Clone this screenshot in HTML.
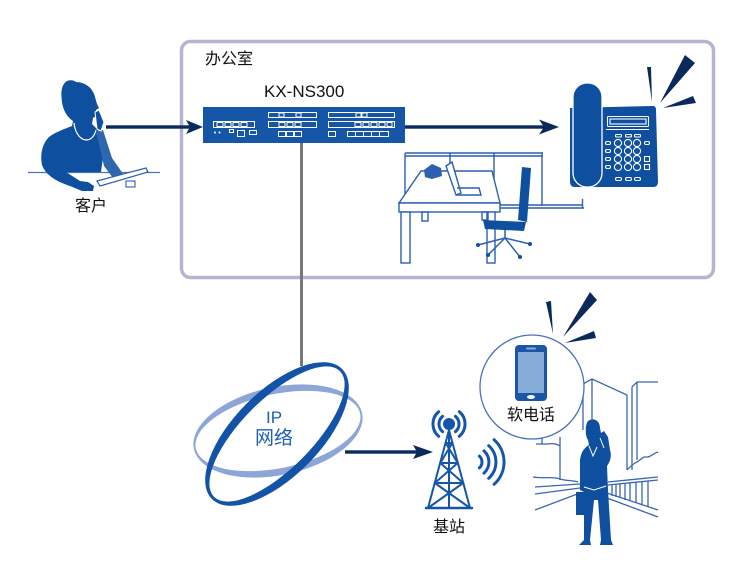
<!DOCTYPE html>
<html><head><meta charset="utf-8"><style>
html,body{margin:0;padding:0;background:#fff;}
svg{display:block;}
text{font-family:"Liberation Sans","Noto Sans CJK SC",sans-serif;}
</style></head><body>
<svg width="730" height="563" viewBox="0 0 730 563" xmlns="http://www.w3.org/2000/svg">
<rect width="730" height="563" fill="#fff"/>

<!-- Office box -->
<rect x="181.5" y="41.5" width="532" height="236" rx="9" fill="none" stroke="#b4b5cf" stroke-width="3.5"/>
<text x="205" y="64" font-size="16" fill="#111">办公室</text>

<!-- Gray connector -->
<line x1="301.5" y1="143" x2="301.5" y2="366" stroke="#777" stroke-width="3"/>

<!-- Device -->
<text x="264" y="97" font-size="17" fill="#111">KX-NS300</text>
<rect x="203" y="107" width="202" height="36" fill="#1556a6"/>
<g fill="none" stroke="#fff" stroke-width="1">
  <rect x="213.5" y="121.5" width="41" height="6"/>
  <rect x="217" y="122.5" width="6" height="4"/><rect x="225" y="122.5" width="6" height="4"/><rect x="233" y="122.5" width="6" height="4"/><rect x="241" y="122.5" width="6" height="4"/>
  <rect x="229.5" y="129.5" width="4" height="3"/><rect x="237.5" y="130.5" width="7" height="6"/><rect x="249.5" y="130.5" width="7" height="4"/>
  <rect x="268.5" y="112.5" width="48" height="5"/>
  <rect x="279" y="113" width="5" height="4"/><rect x="296" y="113" width="5" height="4"/>
  <rect x="268.5" y="121.5" width="48" height="6"/>
  <rect x="279" y="122.5" width="6" height="4"/><rect x="287" y="122.5" width="6" height="4"/><rect x="295" y="122.5" width="6" height="4"/>
  <rect x="278.5" y="131.5" width="7" height="5"/><rect x="286.5" y="131.5" width="7" height="5"/><rect x="294.5" y="131.5" width="7" height="5"/>
  <rect x="328.5" y="112.5" width="66" height="5"/>
  <rect x="356" y="113" width="5" height="4"/><rect x="362" y="113" width="5" height="4"/>
  <rect x="328.5" y="121.5" width="66" height="6"/>
  <rect x="355" y="122.5" width="6" height="4"/><rect x="363" y="122.5" width="6" height="4"/><rect x="371" y="122.5" width="6" height="4"/><rect x="379" y="122.5" width="6" height="4"/><rect x="387" y="122.5" width="5" height="4"/>
  <rect x="328.5" y="131.5" width="7" height="5"/>
  <rect x="347.5" y="131.5" width="41" height="5"/>
  <line x1="355.5" y1="131.5" x2="355.5" y2="136.5"/><line x1="363.5" y1="131.5" x2="363.5" y2="136.5"/><line x1="371.5" y1="131.5" x2="371.5" y2="136.5"/><line x1="379.5" y1="131.5" x2="379.5" y2="136.5"/>
</g>
<circle cx="215" cy="132.5" r="1" fill="#fff"/><circle cx="219.5" cy="132.5" r="1" fill="#fff"/>

<!-- Arrows -->
<g fill="#0b2a5c">
  <rect x="106" y="125.3" width="84" height="3.4"/>
  <polygon points="186,120 203,127 186,134 190,127"/>
  <rect x="405" y="125.3" width="140" height="3.4"/>
  <polygon points="539,119.5 559,127 539,134.5 544,127"/>
  <rect x="345" y="450.3" width="72" height="3.4"/>
  <polygon points="413,445 433,452 413,459 417,452"/>
</g>

<!-- Woman -->
<line x1="28" y1="172.5" x2="160" y2="172.5" stroke="#4a72b8" stroke-width="1.2"/>
<path d="M64,84 C66,80 72,79 76,82 C85,82 93,88 95,97 L97,104 L99,108 L96,110 L96,116 L93,118 L92,124 L98,130 L101,135 L104,150 L101,172 L66,172 L80,181 L88,182 L94,186 L93,191 L82,191 L70,186 C58,182 46,176 42,165 C40,155 42,145 48,138 C53,133 62,130 72,126 L73,121 C67,117 63,110 62,102 C61,94 61,88 64,84 Z" fill="#0e4f9f"/>
<path d="M96,132 L103,130 L112,158 L126,178 L116,182 L104,166 Z" fill="#2e66b0"/>
<path d="M95,112 L99,110 L104,122 L101,131 L97,129 Z" fill="#0e4f9f" stroke="#fff" stroke-width="1"/>
<path d="M74,123 C76,142 92,146 96,130" fill="none" stroke="#fff" stroke-width="1.2"/>
<path d="M97,181 L146,168 L148,172 L100,186 Z" fill="#fff" stroke="#2d5fae" stroke-width="1.2"/>
<rect x="126" y="181" width="9" height="6" fill="#fff" stroke="#2d5fae" stroke-width="1.1"/>
<text x="75" y="211" font-size="16" fill="#111">客户</text>

<!-- Desk area -->
<g fill="none" stroke="#2c5fb0" stroke-width="1.4">
  <line x1="405" y1="153" x2="543" y2="153"/>
  <line x1="405" y1="156" x2="543" y2="156"/>
  <line x1="405" y1="153" x2="405" y2="195"/>
  <line x1="450" y1="153" x2="450" y2="168"/>
  <line x1="494" y1="153" x2="494" y2="206"/>
  <line x1="542" y1="153" x2="542" y2="206"/>
  <line x1="500" y1="205" x2="582" y2="205"/>
  <line x1="500" y1="208" x2="584" y2="208"/>
  <line x1="582.5" y1="199" x2="582.5" y2="208"/>
  <path d="M399,203 L421,171 L492,171 L500,203 Z" fill="#fff"/>
  <rect x="399" y="203" width="101" height="9" fill="#fff"/>
  <rect x="401" y="212" width="9" height="51" fill="#fff"/>
  <rect x="487" y="212" width="8" height="51" fill="#fff"/>
  <rect x="422" y="212" width="6" height="9"/>
  <rect x="482" y="212" width="6" height="8"/>
  <path d="M446,166 L452,162 L461,193 L456,195 Z" fill="#fff"/>
  <path d="M456,195 L481,195 L479,188 L457,188"/>
</g>
<path d="M424,170 L432,164 L441,168 L442,176 L432,179 L425,177 Z" fill="#2c5fb0"/>
<!-- Chair -->
<g fill="#0e4f9f">
  <path d="M522,167 L531,168 L527,222 L518,220 Z"/>
  <path d="M483,220 L526,222 L524,231 L485,229 Z"/>
</g>
<g stroke="#2c5fb0" stroke-width="1.5" fill="none">
  <line x1="505" y1="230" x2="505" y2="238"/>
  <line x1="505" y1="238" x2="478" y2="245"/>
  <line x1="505" y1="238" x2="530" y2="244"/>
  <line x1="505" y1="238" x2="520" y2="257"/>
  <line x1="505" y1="238" x2="488" y2="255"/>
</g>
<g fill="#0e4f9f"><circle cx="478" cy="245" r="2"/><circle cx="530" cy="244" r="2"/><circle cx="520" cy="257" r="2"/><circle cx="488" cy="255" r="2"/></g>

<!-- Desk phone -->
<path d="M570,108 L653,106 Q656,106 656,110 L658,182 Q658,187 653,187 L575,187 Q570,187 570,182 Z" fill="#0e4f9f"/>
<rect x="573" y="83" width="29" height="104" rx="14" fill="#0e4f9f" stroke="#fff" stroke-width="1.3"/>
<g fill="none" stroke="#fff" stroke-width="1.1">
  <rect x="607.5" y="116.5" width="41" height="10" rx="1"/>
  <rect x="610" y="119" width="36" height="5"/>
  <line x1="606" y1="129.5" x2="649" y2="129.5"/>
  <rect x="615.5" y="134.5" width="6" height="2.5" rx="1"/><rect x="625.5" y="134.5" width="6" height="2.5" rx="1"/><rect x="634.5" y="134.5" width="6" height="2.5" rx="1"/>
  <circle cx="618" cy="143" r="3.6"/><circle cx="628" cy="143" r="3.6"/><circle cx="637" cy="143" r="3.6"/>
  <circle cx="618" cy="151" r="3.6"/><circle cx="628" cy="151" r="3.6"/><circle cx="637" cy="151" r="3.6"/>
  <circle cx="618" cy="159" r="3.6"/><circle cx="628" cy="159" r="3.6"/><circle cx="637" cy="159" r="3.6"/>
  <circle cx="618" cy="167" r="3.6"/><circle cx="628" cy="167" r="3.6"/><circle cx="637" cy="167" r="3.6"/>
  <rect x="605.5" y="141.5" width="5" height="3" rx="1.5"/><rect x="605.5" y="149.5" width="5" height="3" rx="1.5"/><rect x="605.5" y="157.5" width="5" height="3" rx="1.5"/><rect x="605.5" y="165.5" width="5" height="3" rx="1.5"/>
  <rect x="644.5" y="141.5" width="5" height="3" rx="1.5"/>
  <rect x="644.5" y="156.5" width="5" height="5"/><rect x="644.5" y="164.5" width="5" height="5"/>
  <rect x="615.5" y="177.5" width="6" height="3" rx="1.5"/><rect x="625.5" y="177.5" width="6" height="3" rx="1.5"/><rect x="634.5" y="177.5" width="6" height="3" rx="1.5"/>
</g>
<g fill="#0b2a5c">
  <polygon points="647,67 651,67 652,102"/>
  <polygon points="685,55 695,63 660,103"/>
  <polygon points="693,96 696,103 663,108"/>
</g>

<!-- IP network rings -->
<path transform="translate(278,431) rotate(-12)" fill-rule="evenodd" fill="#8ea5d8" d="M-86,0 A86,44 0 1,0 86,0 A86,44 0 1,0 -86,0 Z M-84,0 A84,37 0 1,0 84,0 A84,37 0 1,0 -84,0 Z"/>
<path transform="translate(277,434) rotate(-45)" fill-rule="evenodd" fill="#1253a8" d="M-92,0 A92,43 0 1,0 92,0 A92,43 0 1,0 -92,0 Z M-89,0 A89,35 0 1,0 89,0 A89,35 0 1,0 -89,0 Z"/>
<text x="274" y="423" font-size="17" fill="#1d5fb2" text-anchor="middle">IP</text>
<text x="274" y="444" font-size="19" fill="#1d5fb2" text-anchor="middle">网络</text>

<!-- Tower -->
<g stroke="#1656a8" stroke-width="2" fill="none" stroke-linecap="round">
  <line x1="449" y1="430" x2="428" y2="508"/>
  <line x1="449" y1="430" x2="470" y2="508"/>
  <line x1="449" y1="430" x2="449" y2="508"/>
  <line x1="445.7" y1="443" x2="452.3" y2="443"/>
  <line x1="440.3" y1="463" x2="457.7" y2="463"/>
  <line x1="434.8" y1="483" x2="463.2" y2="483"/>
  <line x1="426" y1="508" x2="472" y2="508" stroke-width="2.5"/>
  <line x1="445.7" y1="443" x2="457.7" y2="463"/><line x1="452.3" y1="443" x2="440.3" y2="463"/>
  <line x1="440.3" y1="463" x2="463.2" y2="483"/><line x1="457.7" y1="463" x2="434.8" y2="483"/>
  <line x1="434.8" y1="483" x2="470" y2="508"/><line x1="463.2" y1="483" x2="428" y2="508"/>
</g>
<circle cx="449" cy="424" r="6" fill="#1656a8"/>
<g stroke="#1656a8" stroke-width="3" fill="none" stroke-linecap="round">
  <path d="M455.4,416.3 A10,10 0 0,1 455.4,431.7"/>
  <path d="M459.3,411.7 A16,16 0 0,1 459.3,436.3"/>
  <path d="M442.6,416.3 A10,10 0 0,0 442.6,431.7"/>
  <path d="M438.7,411.7 A16,16 0 0,0 438.7,436.3"/>
  <path d="M479.4,456.1 A8,8 0 0,1 479.4,467.9"/>
  <path d="M484,450.9 A15,15 0 0,1 484,473.1"/>
  <path d="M488.7,445.7 A22,22 0 0,1 488.7,478.3"/>
  <path d="M494.1,439.7 A30,30 0 0,1 494.1,484.3"/>
</g>
<text x="449" y="532" font-size="16" fill="#111" text-anchor="middle">基站</text>

<!-- Street scene -->
<g fill="none" stroke="#3a66b0" stroke-width="1.3">
  <path d="M583,384 L592,379 L627,395 L627,470"/>
  <line x1="592" y1="379" x2="592" y2="480"/>
  <line x1="583" y1="384" x2="583" y2="430"/>
  <line x1="560" y1="437" x2="560" y2="480"/>
  <path d="M542,437 L542,444 M536,444 L548,444 M548,444 C553,443 557,444 560,446"/>
  <path d="M632,470 L632,387 L637,382 L658,382"/>
  <line x1="637" y1="382" x2="637" y2="460"/>
  <path d="M627,470 C631,466 634,463 637,462 C641,460 643,456 646,457 C650,458 653,453 658,452"/>
  <path d="M533,477 C545,479 552,476 560,479 C566,481 572,480 578,482"/>
  <line x1="608" y1="482" x2="658" y2="477"/>
  <line x1="608" y1="485" x2="658" y2="480"/>
  <line x1="607" y1="493" x2="658" y2="510"/>
  <line x1="607" y1="498" x2="658" y2="517"/>
  <line x1="535" y1="487" x2="580" y2="484"/>
  <line x1="535" y1="494" x2="580" y2="488"/>
  <line x1="535" y1="510" x2="580" y2="493"/>
  <path d="M612,484 V496 M616,484 V497 M620,484 V498 M625,483 V500 M630,483 V501 M636,482 V503 M642,481 V505 M648,481 V507"/>
</g>
<!-- Man -->
<path d="M588,421 C594,417 600,421 600,428 L601,433 L604,431 L608,437 L610,450 C612,456 610,462 607,466 L608,490 L611,540 L613,545 L600,545 L601,540 L598,500 L594,500 L590,540 L591,545 L579,545 L584,540 L584,492 L580,490 L580,460 C581,452 584,448 589,445 L588,440 C585,436 585,425 588,421 Z" fill="#0e4f9f"/>
<rect x="576" y="492" width="9" height="23" fill="#0e4f9f"/>
<path d="M589,446 L593,456 L597,447 M600,438 L604,448 M584,487 L594,490 L606,486" fill="none" stroke="#fff" stroke-width="1"/>

<!-- Bubble -->
<circle cx="532" cy="387" r="52" fill="#fff" stroke="#4a72b8" stroke-width="1.3"/>
<rect x="515" y="345" width="32" height="56" rx="4" fill="#1b56a6"/>
<rect x="518" y="352" width="26" height="41" fill="#86acd9"/>
<rect x="526" y="347.5" width="10" height="2" rx="1" fill="#86acd9"/>
<ellipse cx="531" cy="397" rx="4" ry="2" fill="#fff"/>
<text x="531" y="420" font-size="16" fill="#111" text-anchor="middle">软电话</text>
<g fill="#0b2a5c">
  <polygon points="546,302 551,301 553,334"/>
  <polygon points="590,292 597,300 563,337"/>
  <polygon points="594,331 596,338 565,343"/>
</g>
</svg>
</body></html>
